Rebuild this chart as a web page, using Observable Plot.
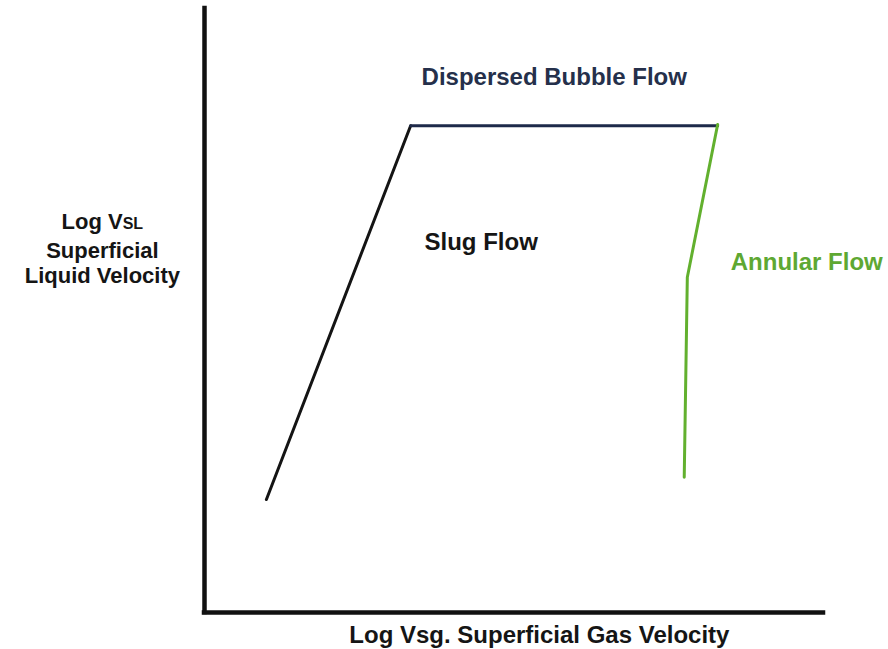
<!DOCTYPE html>
<html>
<head>
<meta charset="utf-8">
<script src="https://cdn.jsdelivr.net/npm/d3@7"></script>
<script src="https://cdn.jsdelivr.net/npm/@observablehq/plot@0.6"></script>
<style>
  html, body { margin: 0; padding: 0; background: #ffffff; }
  #chart { width: 888px; height: 649px; }
</style>
</head>
<body>
<div id="chart"></div>
<script>
// Flow-regime boundaries (relative log-scale units, 0–100)
const slugLeftX = [10.0, 33.3];
const slugLeftY = [18.7, 80.6];
const bubbleX = [33.3, 82.9];
const bubbleY = [80.6, 80.6];
const annularX = [82.9, 78.0, 77.5];
const annularY = [80.8, 55.5, 22.4];

// Region labels
const regionNames = ["Dispersed Bubble Flow", "Slug Flow", "Annular Flow"];
const regionX = [56.5, 44.7, 97.3];
const regionY = [88.6, 61.3, 57.9];
const regionColors = ["#25304b", "#151515", "#5ea832"];

// Axis titles
const xTitle = "Log Vsg. Superficial Gas Velocity";
const yTitleLines = ["Log VSL", "Superficial", "Liquid Velocity"];
const yTitleY = [64.6, 59.9, 55.7];

const pts = (xs, ys) => xs.map((x, i) => ({x, y: ys[i]}));
const font = "'Liberation Sans', Arial, Helvetica, sans-serif";

const chart = Plot.plot({
  width: 888,
  height: 649,
  marginLeft: 204,
  marginRight: 65,
  marginTop: 8,
  marginBottom: 37,
  x: {domain: [0, 100], axis: null},
  y: {domain: [0, 100], axis: null},
  style: {background: "#ffffff", fontFamily: font},
  marks: [
    Plot.ruleX([0], {stroke: "#111", strokeWidth: 4.5, strokeLinecap: "square"}),
    Plot.ruleY([0], {stroke: "#111", strokeWidth: 4.5, strokeLinecap: "square"}),
    Plot.line(pts(slugLeftX, slugLeftY), {x: "x", y: "y", stroke: "#141414", strokeWidth: 3}),
    Plot.line(pts(bubbleX, bubbleY), {x: "x", y: "y", stroke: "#1e2a4a", strokeWidth: 3}),
    Plot.line(pts(annularX, annularY), {x: "x", y: "y", stroke: "#62b02e", strokeWidth: 3, strokeLinejoin: "round"}),
    Plot.text(regionNames.map((t, i) => ({t, x: regionX[i], y: regionY[i], c: regionColors[i]})), {
      x: "x", y: "y", text: "t", fill: d => d.c, fontSize: 24, fontWeight: "bold", textAnchor: "middle"
    }),
    Plot.text([xTitle], {x: 54.1, y: -3.8, text: d => d, fontSize: 24, fontWeight: "bold", fill: "#151515"}),
    Plot.text(yTitleLines.map((t, i) => ({t, y: yTitleY[i]})), {
      x: -16.5, y: "y", text: "t", fontSize: 22, fontWeight: "bold", fill: "#151515"
    })
  ]
});

// Render "SL" of "Log VSL" as small capitals
chart.querySelectorAll("text").forEach(el => {
  if (el.textContent === "Log VSL") {
    el.textContent = "";
    const ns = "http://www.w3.org/2000/svg";
    const a = document.createElementNS(ns, "tspan");
    a.textContent = "Log V";
    const b = document.createElementNS(ns, "tspan");
    b.textContent = "SL";
    b.setAttribute("font-size", "16");
    el.appendChild(a);
    el.appendChild(b);
  }
});

document.getElementById("chart").appendChild(chart);
</script>
</body>
</html>
